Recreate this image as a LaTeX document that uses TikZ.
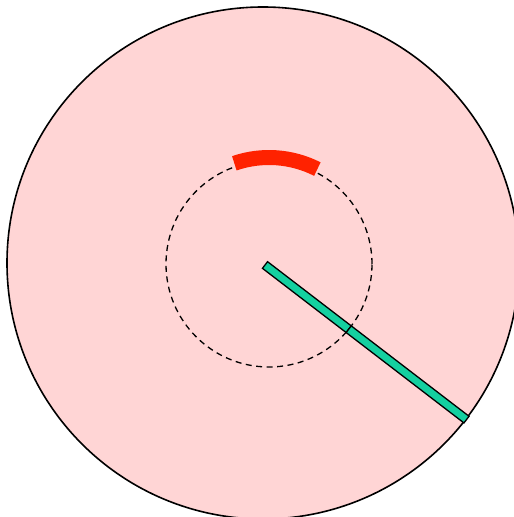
\documentclass[tikz,border=0pt]{standalone}
\definecolor{discpink}{RGB}{255,213,213}
\definecolor{arcred}{RGB}{255,34,0}
\definecolor{bargreen}{RGB}{20,208,160}
\tikzset{
  outercircle/.style={fill=discpink, draw=black, line width=1.6pt},
  innercircle/.style={draw=black, line width=1.3pt, dash pattern=on 6pt off 4.5pt},
  redarc/.style={draw=arcred, line width=15pt},
  barpiece/.style={fill=bargreen, draw=black, line width=1.3pt}
}
\begin{document}
\begin{tikzpicture}[x=1pt,y=1pt]
\useasboundingbox (0,0) rectangle (514,517);
\clip (0,0) rectangle (514,517);
\coordinate (O) at (263,254);
\coordinate (C) at (269,253);
\coordinate (S) at (265,252);
% big disc
\path[outercircle] (O) circle (256pt);
% dashed circle
\path[innercircle] (C) circle (103pt);
% red arc
\path[redarc] ([shift={(63:106.5pt)}]C) arc[start angle=63, end angle=109, radius=106.5pt];
% green bar (two pieces, joined at dashed circle)
\begin{scope}[shift={(S)}, rotate=-37.5]
  \path[barpiece] (0,-4.2) rectangle (105.5,4.2);
  \path[barpiece] (105.5,-4.2) rectangle (254,4.2);
\end{scope}
\end{tikzpicture}
\end{document}
